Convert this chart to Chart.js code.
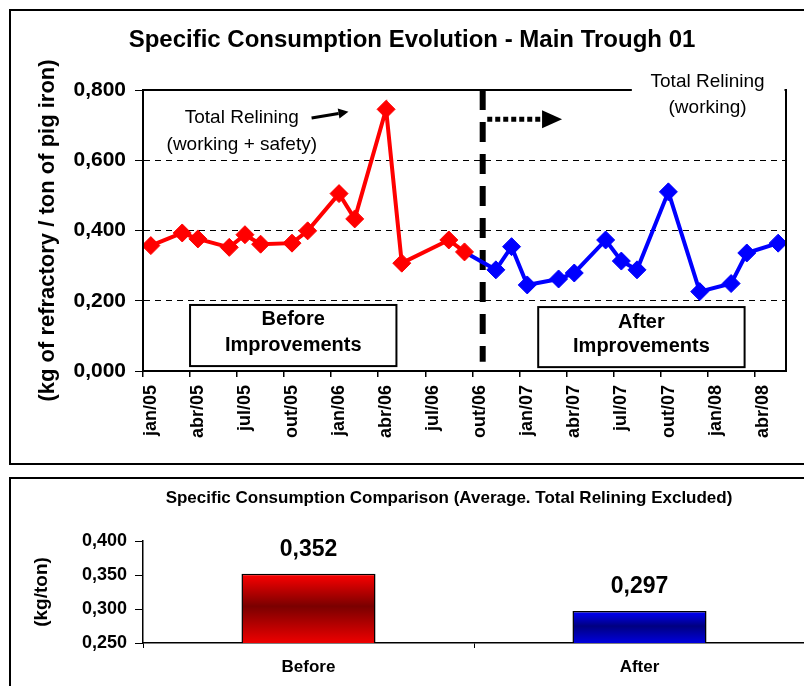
<!DOCTYPE html>
<html>
<head>
<meta charset="utf-8">
<script src="https://cdn.jsdelivr.net/npm/chart.js@4.4.1/dist/chart.umd.min.js"></script>
<style>
  html, body { margin: 0; padding: 0; background: #fff; width: 804px; height: 686px; overflow: hidden; position: relative; }
  .box { position: absolute; border: 2px solid #000; box-sizing: border-box; }
  #box1 { left: 9px; top: 9px; width: 820px; height: 456px; }
  #box2 { left: 9px; top: 477px; width: 820px; height: 240px; }
  canvas { position: absolute; left: 0; }
  #chart1 { top: 0; }
  #chart2 { top: 470px; }
</style>
</head>
<body>
<div class="box" id="box1"></div>
<div class="box" id="box2"></div>
<canvas id="chart1" width="804" height="470"></canvas>
<canvas id="chart2" width="820" height="216"></canvas>
<script>
// Specific consumption charts (Main Trough 01)

const monthNames = ["jan", "fev", "mar", "abr", "mai", "jun", "jul", "ago", "set", "out", "nov", "dez"];
const tickLabels = ["jan/05", "abr/05", "jul/05", "out/05", "jan/06", "abr/06", "jul/06",
  "out/06", "jan/07", "abr/07", "jul/07", "out/07", "jan/08", "abr/08"];

const beforeMonths = ["jan/05", "mar/05", "abr/05", "jun/05", "jul/05", "ago/05", "out/05",
  "nov/05", "jan/06", "fev/06", "abr/06", "mai/06", "ago/06", "set/06"];
const beforeValues = [0.357, 0.393, 0.376, 0.352, 0.388, 0.361, 0.364,
  0.399, 0.505, 0.433, 0.745, 0.307, 0.373, 0.339];

const afterMonths = ["nov/06", "dez/06", "jan/07", "mar/07", "abr/07", "jun/07", "jul/07",
  "ago/07", "out/07", "dez/07", "fev/08", "mar/08", "mai/08"];
const afterValues = [0.288, 0.354, 0.245, 0.262, 0.279, 0.373, 0.313,
  0.288, 0.510, 0.226, 0.249, 0.336, 0.364];

const categories = ["Before", "After"];
const averages = [0.352, 0.297];

const monthIndex = (label) => {
  const [m, yy] = label.split("/");
  return (Number(yy) - 5) * 12 + monthNames.indexOf(m);
};
const toPoints = (months, values) =>
  months.map((m, i) => ({ x: monthIndex(m) + 0.5, y: values[i] }));

const beforePoints = toPoints(beforeMonths, beforeValues);
// blue line starts from the last red point
const afterPoints = [beforePoints[beforePoints.length - 1], ...toPoints(afterMonths, afterValues)];

const comma = (v) => Number(v).toFixed(3).replace(".", ",");
const FONT = "Arial, 'Liberation Sans', sans-serif";

const drawArrow = (c, x1, y1, x2, y2, headLen, headW) => {
  const ang = Math.atan2(y2 - y1, x2 - x1);
  const bx = x2 - Math.cos(ang) * headLen;
  const by = y2 - Math.sin(ang) * headLen;
  c.beginPath();
  c.moveTo(x1, y1);
  c.lineTo(bx, by);
  c.stroke();
  c.setLineDash([]);
  c.beginPath();
  c.moveTo(x2, y2);
  c.lineTo(bx + Math.sin(ang) * headW / 2, by - Math.cos(ang) * headW / 2);
  c.lineTo(bx - Math.sin(ang) * headW / 2, by + Math.cos(ang) * headW / 2);
  c.closePath();
  c.fill();
};

const textBox = (c, x1, y1, x2, y2, lines, cx, ys) => {
  c.fillStyle = "#fff";
  c.fillRect(x1, y1, x2 - x1, y2 - y1);
  c.strokeStyle = "#000";
  c.lineWidth = 2;
  c.strokeRect(x1, y1, x2 - x1, y2 - y1);
  c.fillStyle = "#000";
  c.font = `bold 20px ${FONT}`;
  c.textAlign = "center";
  c.textBaseline = "middle";
  lines.forEach((t, i) => c.fillText(t, cx, ys[i]));
};

const evolutionDecor = {
  id: "evolutionDecor",
  beforeDatasetsDraw(chart) {
    const c = chart.ctx;
    const { x, y } = chart.scales;
    const dx = x.getPixelForValue(21.66);
    c.save();
    c.strokeStyle = "#000";
    c.lineWidth = 6;
    c.setLineDash([20, 12]);
    c.beginPath();
    c.moveTo(dx, y.getPixelForValue(0.8));
    c.lineTo(dx, y.getPixelForValue(0.026));
    c.stroke();
    c.restore();
  },
  afterDraw(chart) {
    const c = chart.ctx;
    const { x, y } = chart.scales;
    const a = chart.chartArea;
    c.save();

    // plot border
    c.strokeStyle = "#000";
    c.lineWidth = 2;
    c.strokeRect(a.left, a.top, a.right - a.left, a.bottom - a.top);

    // title
    c.fillStyle = "#000";
    c.textAlign = "center";
    c.textBaseline = "middle";
    c.font = `bold 24px ${FONT}`;
    c.fillText("Specific Consumption Evolution - Main Trough 01", 412, 40);

    // left note + arrow
    c.font = `19px ${FONT}`;
    c.fillText("Total Relining", x.getPixelForValue(6.3), y.getPixelForValue(0.72));
    c.fillText("(working + safety)", x.getPixelForValue(6.3), y.getPixelForValue(0.643));
    c.lineWidth = 3;
    drawArrow(c, x.getPixelForValue(10.75), y.getPixelForValue(0.72),
      x.getPixelForValue(13.1), y.getPixelForValue(0.738), 10, 10);

    // right note over the top border
    c.fillStyle = "#fff";
    c.fillRect(x.getPixelForValue(31.17), a.top - 4, a.right - 1.5 - x.getPixelForValue(31.17), 8);
    c.fillStyle = "#000";
    c.fillText("Total Relining", x.getPixelForValue(36), y.getPixelForValue(0.823));
    c.fillText("(working)", x.getPixelForValue(36), y.getPixelForValue(0.749));

    // dotted arrow after the divider
    c.lineWidth = 5;
    c.setLineDash([5, 3]);
    drawArrow(c, x.getPixelForValue(21.95), y.getPixelForValue(0.717),
      x.getPixelForValue(26.72), y.getPixelForValue(0.717), 20, 18);

    // period boxes
    textBox(c, x.getPixelForValue(3.0), y.getPixelForValue(0.188),
      x.getPixelForValue(16.16), y.getPixelForValue(0.014),
      ["Before", "Improvements"], x.getPixelForValue(9.58),
      [y.getPixelForValue(0.148), y.getPixelForValue(0.074)]);
    textBox(c, x.getPixelForValue(25.2), y.getPixelForValue(0.182),
      x.getPixelForValue(38.36), y.getPixelForValue(0.011),
      ["After", "Improvements"], x.getPixelForValue(31.78),
      [y.getPixelForValue(0.1395), y.getPixelForValue(0.071)]);
    c.restore();
  },
};

const lineSet = (data, color) => ({
  data,
  borderColor: color,
  backgroundColor: color,
  borderWidth: 4,
  pointStyle: "rectRot",
  pointRadius: 9,
  pointBorderWidth: 1,
  tension: 0,
});

new Chart(document.getElementById("chart1"), {
  type: "line",
  data: {
    datasets: [
      lineSet(beforePoints, "#ff0000"),
      { ...lineSet(afterPoints, "#0000ff"), pointRadius: (ctx) => (ctx.dataIndex === 0 ? 0 : 9) },
    ],
  },
  options: {
    responsive: false,
    animation: false,
    events: [],
    layout: { padding: { left: 0, top: 90, right: 18, bottom: 0 } },
    plugins: { legend: { display: false }, tooltip: { enabled: false } },
    scales: {
      x: {
        type: "linear",
        min: 0,
        max: 41,
        afterBuildTicks: (s) => { s.ticks = tickLabels.map((_, i) => ({ value: i * 3 })); },
        afterFit: (s) => { s.height = 99; },
        grid: { drawOnChartArea: false, color: "#000", lineWidth: 1.5, tickLength: 6 },
        border: { color: "#000", width: 2 },
        ticks: {
          autoSkip: false,
          minRotation: 90,
          maxRotation: 90,
          labelOffset: 8,
          padding: 8,
          color: "#000",
          font: { family: FONT, size: 18, weight: "bold" },
          callback: (v, i) => tickLabels[i],
        },
      },
      y: {
        min: 0,
        max: 0.8,
        afterFit: (s) => { s.width = 143; },
        grid: { color: "#000", lineWidth: 1, tickBorderDash: [], tickLength: 8 },
        border: { color: "#000", width: 2, dash: [6, 5] },
        title: {
          display: true,
          text: "(kg of refractory / ton of pig iron)",
          color: "#000",
          font: { family: FONT, size: 22, weight: "bold" },
          padding: { top: 35, bottom: 0 },
        },
        ticks: {
          stepSize: 0.2,
          padding: 9,
          color: "#000",
          font: { family: FONT, size: 21, weight: "bold" },
          callback: (v) => comma(v),
        },
      },
    },
  },
  plugins: [evolutionDecor],
});

// Comparison bars
const barGradient = (ctx, light, dark, low) => {
  const { chart, dataIndex } = ctx;
  const ys = chart.scales.y;
  if (!chart.chartArea || !ys) return light;
  const top = ys.getPixelForValue(averages[dataIndex]);
  const bottom = ys.getPixelForValue(ys.min);
  const g = chart.ctx.createLinearGradient(0, top, 0, bottom);
  g.addColorStop(0, light);
  g.addColorStop(0.47, dark);
  g.addColorStop(1, low);
  return g;
};

const comparisonDecor = {
  id: "comparisonDecor",
  afterDraw(chart) {
    const c = chart.ctx;
    const meta = chart.getDatasetMeta(0);
    c.save();
    c.fillStyle = "#000";
    c.textAlign = "center";
    c.textBaseline = "middle";
    c.font = `bold 17px ${FONT}`;
    c.fillText("Specific Consumption Comparison (Average. Total Relining Excluded)", 449, 28);
    c.font = `bold 23px ${FONT}`;
    meta.data.forEach((bar, i) => c.fillText(comma(averages[i]), bar.x, bar.y - 24));
    c.restore();
  },
};

new Chart(document.getElementById("chart2"), {
  type: "bar",
  data: {
    labels: categories,
    datasets: [{
      data: averages,
      backgroundColor: (ctx) => (ctx.dataIndex === 0
        ? barGradient(ctx, "#ff0000", "#7a0000", "#ee0000")
        : barGradient(ctx, "#0000ff", "#000080", "#0000dd")),
      borderColor: "#000",
      borderWidth: 1.5,
      barPercentage: 0.81,
      categoryPercentage: 0.5,
    }],
  },
  options: {
    responsive: false,
    animation: false,
    events: [],
    layout: { padding: { left: 0, top: 71, right: 15, bottom: 0 } },
    plugins: { legend: { display: false }, tooltip: { enabled: false } },
    scales: {
      x: {
        afterFit: (s) => { s.height = 43; },
        grid: { offset: true, drawOnChartArea: false, color: "#000", tickLength: 5 },
        border: { color: "#000", width: 1.5 },
        ticks: { padding: 9, color: "#000", font: { family: FONT, size: 17, weight: "bold" } },
      },
      y: {
        min: 0.25,
        max: 0.4,
        afterFit: (s) => { s.width = 143; },
        grid: { drawOnChartArea: false, color: "#000", tickLength: 8 },
        border: { color: "#000", width: 1.5 },
        title: {
          display: true,
          text: "(kg/ton)",
          color: "#000",
          font: { family: FONT, size: 19, weight: "bold" },
          padding: { top: 30, bottom: 0 },
        },
        ticks: {
          stepSize: 0.05,
          padding: 8,
          color: "#000",
          font: { family: FONT, size: 18, weight: "bold" },
          callback: (v) => comma(v),
        },
      },
    },
  },
  plugins: [comparisonDecor],
});
</script>
</body>
</html>
